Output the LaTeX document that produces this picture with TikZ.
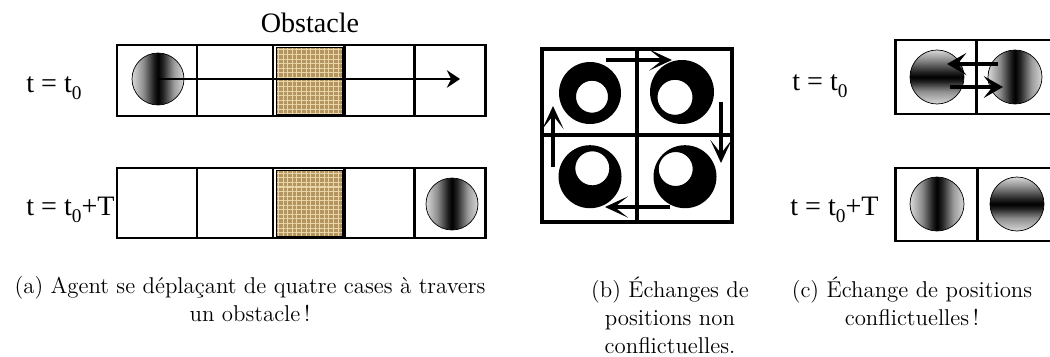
\documentclass[tikz,border=0pt]{standalone}
\usepackage{fontspec}
\newfontfamily\timesfont{Liberation Serif}
\usetikzlibrary{arrows.meta, patterns.meta}
\definecolor{burlap}{RGB}{180,148,95}
\definecolor{burlapL}{RGB}{232,214,168}
\pgfdeclarehorizontalshading{vstripe}{100bp}{color(0bp)=(white); color(25bp)=(white!85!black);
  color(36bp)=(black!45); color(46bp)=(black!88); color(50bp)=(black); color(55bp)=(black!85);
  color(65bp)=(black!40); color(75bp)=(white!85!black); color(100bp)=(white)}
\pgfdeclareverticalshading{hstripe}{100bp}{color(0bp)=(white); color(25bp)=(white!85!black);
  color(37bp)=(black!45); color(46bp)=(black!88); color(50bp)=(black); color(55bp)=(black!85);
  color(66bp)=(black!45); color(75bp)=(white!85!black); color(100bp)=(white)}
\newcommand{\tsub}[1]{\raisebox{-0.28em}{\fontsize{11}{11}\selectfont #1}}

\begin{document}
\begin{tikzpicture}[x=0.02cm, y=0.02cm,
  gridline/.style={draw, line width=1.7pt},
  gridbold/.style={draw, line width=2.3pt},
  tlabel/.style={font=\timesfont\fontsize{16}{19}\selectfont, inner sep=0pt},
  caption/.style={font=\fontsize{13}{16}\selectfont\addfontfeature{LetterSpace=5},
                  align=center, inner sep=0pt, anchor=north},
  ballv/.style={circle, draw, thin, shade, shading=vstripe, minimum size=1.04cm, inner sep=0pt},
  ballh/.style={circle, draw, thin, shade, shading=hstripe, minimum size=1.04cm, inner sep=0pt},
  moveA/.style={line width=1.7pt, -{Stealth[length=7.5pt, width=10pt, inset=2.5pt]}},
  swapB/.style={line width=2.3pt, -{Stealth[length=13pt, width=12pt, inset=7.5pt]}},
  swapC/.style={line width=2.3pt, -{Stealth[length=11pt, width=12.5pt, inset=5pt]}}
]
\clip (0,0) rectangle (1050,356);

% (a) agent crossing the obstacle
\foreach \yb/\yt in {240/311, 118/188} {
  \draw[gridline] (117,\yb) rectangle (485,\yt);
  \foreach \xd in {197,273,344,414}
    \draw[gridline] (\xd,\yb) -- (\xd,\yt);
  \fill[burlap] (276,\yb+2) rectangle (342,\yt-2);
  \fill[pattern={Hatch[angle=0, distance=2.6pt, line width=0.6pt]}, pattern color=burlapL]
    (276,\yb+2) rectangle (342,\yt-2);
  \draw[thin] (276,\yb+2) rectangle (342,\yt-2);
}
\node[tlabel, anchor=base] (obstacle) at (310,324) {Obstacle};
\node[tlabel, anchor=base west] (tA0) at (26,264) {t = t\tsub{0}};
\node[tlabel, anchor=base west] (tAT) at (26,141) {t = t\tsub{0}+T};
\node[ballv] (agentA) at (158,277) {};
\node[ballv] (agentAT) at (452,152) {};
\coordinate (goalA) at (460,277);
\draw[moveA] (agentA.center) -- (goalA);

% (b) rotation without conflict
\draw[gridbold] (542,134) rectangle (732,307);
\draw[gridbold] (637,134) -- (637,307);
\draw[gridbold] (542,221) -- (732,221);
\fill[even odd rule] (590,263) circle (31) (592,259.3) circle (16);
\fill[even odd rule] (682,264) circle (32) (675,258.7) circle (17.5);
\fill[even odd rule] (590,179.3) circle (31.5) (592.3,187.7) circle (17);
\fill[even odd rule] (685,179.3) circle (31.5) (675.7,187) circle (17);
\coordinate (bT1) at (606,296);  \coordinate (bT2) at (672,296);
\coordinate (bR1) at (721,254);  \coordinate (bR2) at (721,193);
\coordinate (bB1) at (670,149);  \coordinate (bB2) at (605,149);
\coordinate (bL1) at (553,189);  \coordinate (bL2) at (553,250);
\draw[swapB] (bT1) -- (bT2);
\draw[swapB] (bR1) -- (bR2);
\draw[swapB] (bB1) -- (bB2);
\draw[swapB] (bL1) -- (bL2);

% (c) conflicting swap
\draw[gridline] (895,242) rectangle (1057,316);
\draw[gridline] (976,242) -- (976,316);
\draw[gridline] (895,115) rectangle (1057,188);
\draw[gridline] (977,115) -- (977,188);
\node[tlabel, anchor=base west] (tC0) at (792,266) {t = t\tsub{0}};
\node[tlabel, anchor=base west] (tCT) at (790,141) {t = t\tsub{0}+T};
\node[ballh, minimum size=1.08cm] (agentC1) at (937,279) {};
\node[ballv, minimum size=1.08cm] (agentC2) at (1015,279) {};
\node[ballv, minimum size=1.08cm] (agentC2T) at (937,152) {};
\node[ballh, minimum size=1.08cm] (agentC1T) at (1017,152) {};
\coordinate (cT1) at (998,292);  \coordinate (cT2) at (947,292);
\coordinate (cB1) at (950,269);  \coordinate (cB2) at (1003,269);
\draw[swapC] (cT1) -- (cT2);
\draw[swapC] (cB1) -- (cB2);

% captions
\node[caption] (capA) at (250,80) {(a) Agent se déplaçant de quatre cases à travers\\un obstacle\,!};
\node[caption] (capB) at (670,80) {(b) Échanges de\\positions non\\conflictuelles.};
\node[caption] (capC) at (912,80) {(c) Échange de positions\\conflictuelles\,!};
\end{tikzpicture}
\end{document}
